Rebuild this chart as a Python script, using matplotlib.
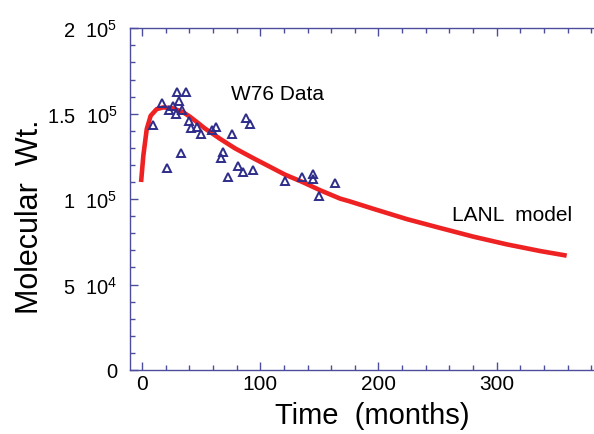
import matplotlib
matplotlib.use("Agg")
import matplotlib.pyplot as plt
from matplotlib.ticker import MultipleLocator, FixedLocator

plt.rcParams['font.family'] = ['Liberation Sans', 'DejaVu Sans']
plt.rcParams['mathtext.fontset'] = 'custom'
plt.rcParams['mathtext.rm'] = 'Liberation Sans'

# W76 measured data (time in months, molecular weight)
data_time = [9.6, 16.9, 20.9, 23.1, 26.0, 28.7, 29.8, 31.5, 32.7, 33.8, 37.2,
             39.5, 41.2, 46.2, 49.9, 59.2, 62.8, 75.8, 87.7, 91.3, 68.7, 66.8,
             72.4, 81.4, 85.6, 94.1, 120.9, 135.0, 144.3, 144.8, 149.9, 163.1]
data_mw = [143500, 156200, 118200, 152100, 154300, 149800, 162500, 157200,
           126800, 152100, 162500, 145900, 141600, 142000, 138100, 140500,
           142500, 138100, 147300, 143900, 127700, 123800, 112700, 119200,
           116000, 117200, 110700, 113100, 114600, 111700, 101600, 109200]

# LANL model curve
model_time = [-0.8, 1.1, 4.0, 7.3, 12.4, 18.0, 26.5, 34.9, 40.6, 46.2, 53.3,
              66.0, 78.7, 94.0, 106.0, 121.0, 136.4, 150.6, 167.5, 176.0,
              195.7, 223.9, 252.1, 280.3, 308.5, 336.7, 359.2]
model_mw = [110000, 125400, 141000, 148800, 152700, 153700, 153100, 150800,
            148200, 145200, 141300, 135300, 129700, 124000, 119700, 114300,
            109800, 105200, 100300, 98600, 94300, 88300, 83100, 78000, 73500,
            69600, 66900]

ytick_vals = [0, 50000, 100000, 150000, 200000]
ytick_labels = ['0', r'5  $\mathregular{10^4}$', r'1  $\mathregular{10^5}$',
                r'1.5  $\mathregular{10^5}$', r'2  $\mathregular{10^5}$']
xtick_vals = [0, 100, 200, 300]

spine_col = '#4d4d9e'

fig = plt.figure(figsize=(5.94, 4.35), dpi=100)
W, H = 594, 435
left, right, top, bottom = 130.2, 603.1, 29.3, 370.9
ax = fig.add_axes([left / W, 1 - bottom / H, (right - left) / W, (bottom - top) / H])

ax.plot(model_time, model_mw, color='#ee2222', lw=3.3, solid_capstyle='butt',
        solid_joinstyle='round', zorder=2)
ax.plot(data_time, data_mw, linestyle='none', marker='^', markersize=6.4,
        markerfacecolor='none', markeredgecolor='#2e2e8a', markeredgewidth=1.4, zorder=3)

ax.set_xlim(-10, 390)
ax.set_ylim(0, 200000)
ax.xaxis.set_major_locator(FixedLocator(xtick_vals))
ax.xaxis.set_minor_locator(MultipleLocator(20))
ax.yaxis.set_major_locator(FixedLocator(ytick_vals))
ax.yaxis.set_minor_locator(MultipleLocator(10000))
ax.set_yticklabels(ytick_labels)

for s in ax.spines.values():
    s.set_color(spine_col)
    s.set_linewidth(1.0)
ax.spines['right'].set_visible(False)

ax.tick_params(which='both', direction='in', color=spine_col, width=1.0,
               top=True, right=False, labelcolor='black')
ax.tick_params(which='major', length=6)
ax.tick_params(which='minor', length=3.6)
ax.tick_params(axis='x', which='major', pad=3, labelsize=15)
ax.tick_params(axis='y', which='major', pad=9, labelsize=14.5)

fig.text(30 / W, 1 - 217 / H, 'Molecular  Wt.', rotation=90, fontsize=22,
         ha='center', va='center')
fig.text(372 / W, 1 - 416 / H, 'Time  (months)', fontsize=21,
         ha='center', va='center')

fig.text(231.5 / W, 1 - 95 / H, 'W76 Data', fontsize=15, ha='left', va='center')
fig.text(451.5 / W, 1 - 215.5 / H, 'LANL  model', fontsize=15, ha='left', va='center')

fig.savefig('out.png', dpi=100)
